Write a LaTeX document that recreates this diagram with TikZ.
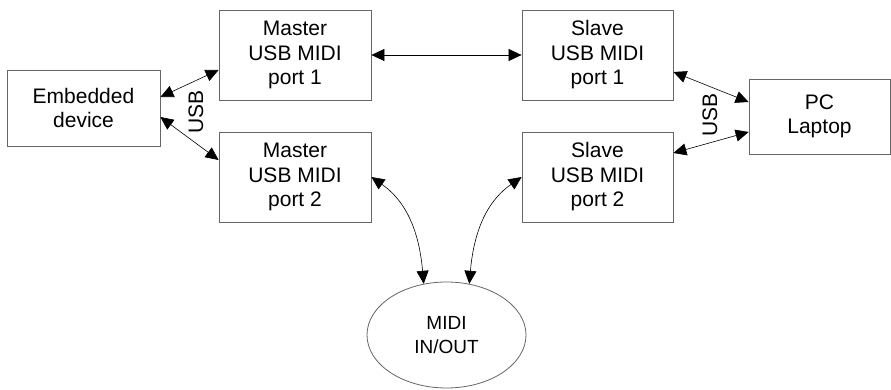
\documentclass[tikz,border=0pt]{standalone}
\usepackage{fontspec}
\setmainfont{Liberation Sans}
\usetikzlibrary{arrows.meta,shapes.geometric}

\tikzset{
    box/.style={draw=black!60,line width=0.8pt,align=center,font=\fontsize{21}{24.5}\selectfont},
    biarrow/.style={line width=0.6pt,{Triangle[length=13pt,width=12pt]}-{Triangle[length=13pt,width=12pt]}}
}

\begin{document}
\begin{tikzpicture}[x=1pt,y=-1pt]
        \useasboundingbox (0,0) rectangle (891,390);

        \node[box,minimum width=153pt,minimum height=76pt] (emb) at (83.5,108) {Embedded\\device};
        \node[box,minimum width=152pt,minimum height=90pt] (m1) at (295,55) {Master\\USB MIDI\\port 1};
        \node[box,minimum width=152pt,minimum height=90pt] (m2) at (295,177) {Master\\USB MIDI\\port 2};
        \node[box,minimum width=151pt,minimum height=90pt] (s1) at (597.5,55) {Slave\\USB MIDI\\port 1};
        \node[box,minimum width=151pt,minimum height=90pt] (s2) at (597.5,177) {Slave\\USB MIDI\\port 2};
        \node[box,minimum width=141pt,minimum height=75pt] (pc) at (819.5,116.5) {PC\\Laptop};
        \node[box,ellipse,inner sep=0pt,minimum width=159pt,minimum height=106pt,font=\fontsize{19}{24}\selectfont] (midi) at (446.5,335) {MIDI\\IN/OUT};

        \draw[biarrow] ([yshift=11pt]emb.east) -- ([yshift=-15pt]m1.west);
        \draw[biarrow] ([yshift=-9pt]emb.east) -- ([yshift=17pt]m2.west);
        \draw[biarrow] (m1.east) -- (s1.west);
        \draw[biarrow] ([yshift=-17pt]s1.east) -- ([yshift=14.5pt]pc.west);
        \draw[biarrow] ([yshift=24pt]s2.east) -- ([yshift=-15.5pt]pc.west);
        \draw[biarrow] (m2.east) to[out=-35,in=95] (midi.114);
        \draw[biarrow] (s2.west) to[out=-145,in=85] (midi.66);

        \node[rotate=90,font=\fontsize{21}{22}\selectfont] (usbl) at (196,112) {USB};
        \node[rotate=90,font=\fontsize{21}{22}\selectfont] (usbr) at (710,115) {USB};
    \end{tikzpicture}
\end{document}
